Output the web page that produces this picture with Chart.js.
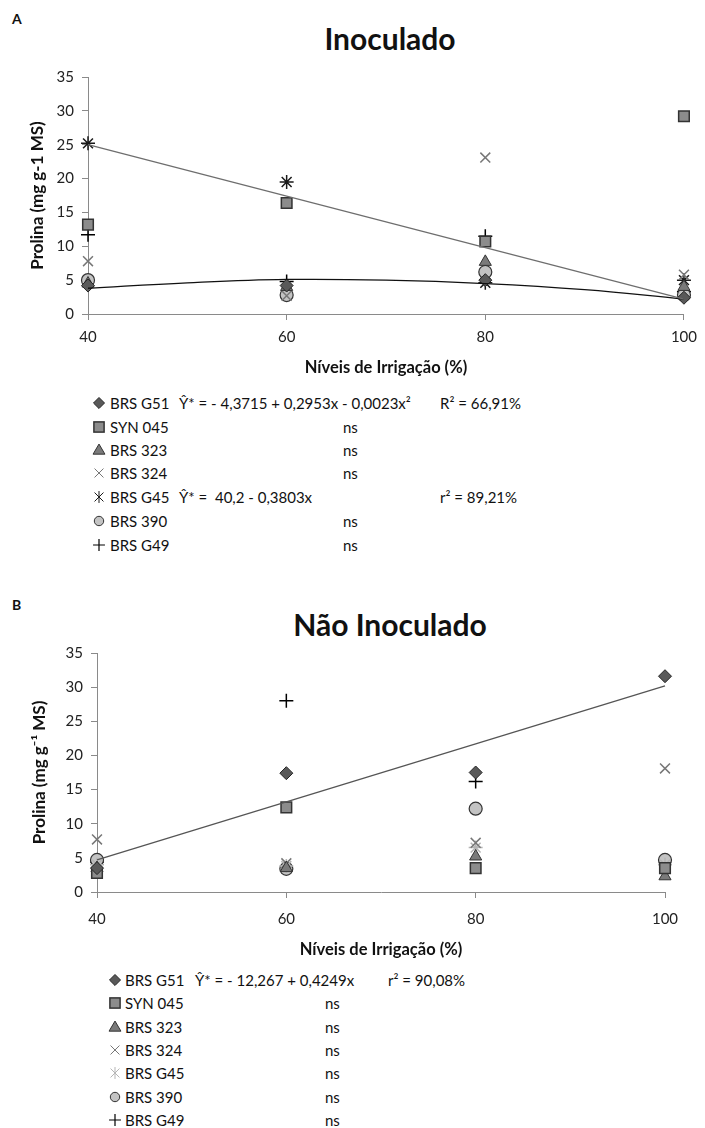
<!DOCTYPE html>
<html lang="pt">
<head>
<meta charset="UTF-8">
<title>Prolina</title>
<script src="https://cdn.jsdelivr.net/npm/chart.js"></script>
<style>
  html, body { margin: 0; padding: 0; background: #fff; }
  #page { position: relative; width: 705px; height: 1128px; font-family: Lato, "Open Sans", sans-serif; color: #111; overflow: hidden; }
  .box { position: absolute; left: 0; width: 705px; }
  .letter { position: absolute; left: 12px; font: bold 14px Lato, sans-serif; }
  .title { position: absolute; font: bold 30px Lato, sans-serif; transform: translateX(-50%); white-space: nowrap; }
  .leg { position: absolute; font-size: 15px; white-space: pre; line-height: 18px; }
  .leg svg { position: absolute; }
</style>
</head>
<body>
<div id="page">
  <div class="letter" style="top:10px">A</div>
  <div class="title" style="left:390px;top:20px">Inoculado</div>
  <div class="box" style="top:60px;height:320px"><canvas id="chartA"></canvas></div>
  <div id="legendA"></div>

  <div class="letter" style="top:596px">B</div>
  <div class="title" style="left:390px;top:606px">Não Inoculado</div>
  <div class="box" style="top:630px;height:332px"><canvas id="chartB"></canvas></div>
  <div id="legendB"></div>
</div>

<script>
  // irrigation levels (%)
  const levels = [40, 60, 80, 100];
  const cultivars = ['BRS G51', 'SYN 045', 'BRS 323', 'BRS 324', 'BRS G45', 'BRS 390', 'BRS G49'];

  // A - Inoculado (mg g-1 MS)
  const inocG51    = [4.2, 4.2, 5.0, 2.4];
  const inocSYN045 = [13.2, 16.4, 10.7, 29.2];
  const inocBRS323 = [4.5, 4.0, 7.7, 4.0];
  const inocBRS324 = [7.8, 2.7, 23.1, 5.8];
  const inocG45    = [25.2, 19.5, 4.6, 5.0];
  const inocBRS390 = [5.0, 2.8, 6.2, 2.8];
  const inocG49    = [11.7, 4.8, 11.5, 3.3];

  // B - Não Inoculado
  const nonG51    = [3.5, 17.4, 17.5, 31.6];
  const nonSYN045 = [2.8, 12.4, 3.5, 3.5];
  const nonBRS323 = [3.5, 3.5, 5.2, 2.3];
  const nonBRS324 = [7.7, 4.2, 7.2, 18.1];
  const nonG45    = [4.0, 3.8, 6.5, 4.0];
  const nonBRS390 = [4.7, 3.4, 12.2, 4.7];
  const nonG49    = [4.4, 28.0, 16.2, 4.7];

  // fitted trend lines
  const fitLevelsQuad = [40, 50, 60, 70, 80, 90, 100];
  const inocFitG51 = [3.8, 4.6, 5.1, 5.0, 4.5, 3.6, 2.2];
  const fitLevelsLin = [40, 100];
  const inocFitG45 = [25.0, 2.2];
  const nonFitG51 = [4.7, 30.2];

  const yTicks = [0, 5, 10, 15, 20, 25, 30, 35];

  // legend text columns
  const eqA = ['Ŷ* = - 4,3715 + 0,2953x - 0,0023x²', 'ns', 'ns', 'ns', 'Ŷ* =  40,2 - 0,3803x', 'ns', 'ns'];
  const r2A = ['R² = 66,91%', '', '', '', 'r² = 89,21%', '', ''];
  const eqB = ['Ŷ* = - 12,267 + 0,4249x', 'ns', 'ns', 'ns', 'ns', 'ns', 'ns'];
  const r2B = ['r² = 90,08%', '', '', '', '', '', ''];

  // marker styles per cultivar
  function markers(g45color) {
    return [
      { pointStyle: 'rectRot',  radius: 6.5, bg: '#595959', border: '#262626', bw: 1 },
      { pointStyle: 'rect',     radius: 7.5, bg: '#8c8c8c', border: '#333', bw: 1.5 },
      { pointStyle: 'triangle', radius: 7,   bg: '#7a7a7a', border: '#333', bw: 1 },
      { pointStyle: 'crossRot', radius: 7,   bg: '#777',    border: '#777', bw: 1.5 },
      { pointStyle: 'star',     radius: 7,   bg: g45color,  border: g45color, bw: 1.5 },
      { pointStyle: 'circle',   radius: 6.5, bg: '#c3c3c3', border: '#333', bw: 1.2 },
      { pointStyle: 'cross',    radius: 7,   bg: '#000',    border: '#000', bw: 1.5 }
    ];
  }

  function pts(xs, ys) {
    return xs.map((x, i) => ({ x: x, y: ys[i] }));
  }

  function makeChart(id, seriesList, styles, fits, pad, yWidth, xHeight, xTickPad, yTitle) {
    const datasets = [];
    fits.forEach(f => {
      datasets.push({
        data: pts(f.x, f.y),
        showLine: true,
        borderColor: f.color,
        borderWidth: 1.3,
        pointRadius: 0,
        tension: f.tension || 0,
        clip: false
      });
    });
    seriesList.forEach((s, i) => {
      const st = styles[i];
      datasets.push({
        label: cultivars[i],
        data: pts(levels, s),
        showLine: false,
        pointStyle: st.pointStyle,
        pointRadius: st.radius,
        pointBackgroundColor: st.bg,
        pointBorderColor: st.border,
        pointBorderWidth: st.bw,
        clip: false
      });
    });
    return new Chart(document.getElementById(id), {
      type: 'scatter',
      data: { datasets: datasets },
      options: {
        responsive: true,
        maintainAspectRatio: false,
        animation: false,
        layout: { padding: pad },
        plugins: { legend: { display: false }, tooltip: { enabled: false } },
        scales: {
          x: {
            type: 'linear', min: 40, max: 100,
            afterFit: s => { s.height = xHeight; },
            border: { color: '#8a8a8a', width: 1 },
            grid: { drawOnChartArea: false, drawTicks: true, tickLength: 6, color: '#8a8a8a' },
            ticks: { stepSize: 20, color: '#222', padding: xTickPad, font: { family: 'Lato', size: 15 } },
            title: { display: true, text: 'Níveis de Irrigação (%)', color: '#111',
                     font: { family: 'Lato', size: 16.5, weight: 'bold' }, padding: { top: 0, bottom: 2 } }
          },
          y: {
            min: 0, max: 35,
            afterFit: s => { s.width = yWidth; },
            afterBuildTicks: s => { s.ticks = yTicks.map(v => ({ value: v })); },
            border: { color: '#8a8a8a', width: 1 },
            grid: { drawOnChartArea: false, drawTicks: true, tickLength: 6, color: '#8a8a8a' },
            ticks: { color: '#222', padding: 8, font: { family: 'Lato', size: 15 } },
            title: { display: true, text: yTitle, color: '#111',
                     font: { family: 'Lato', size: 17, weight: 'bold' }, padding: { top: 0, bottom: 4 } }
          }
        }
      }
    });
  }

  const stylesA = markers('#1a1a1a');
  const stylesB = markers('#b5b5b5');

  makeChart('chartA',
    [inocG51, inocSYN045, inocBRS323, inocBRS324, inocG45, inocBRS390, inocG49],
    stylesA,
    [{ x: fitLevelsLin, y: inocFitG45, color: '#6e6e6e' },
     { x: fitLevelsQuad, y: inocFitG51, color: '#111', tension: 0.4 }],
    { top: 17, right: 15, left: 27, bottom: 0 }, 61, 66, 8, 'Prolina (mg g-1 MS)');

  makeChart('chartB',
    [nonG51, nonSYN045, nonBRS323, nonBRS324, nonG45, nonBRS390, nonG49],
    stylesB,
    [{ x: fitLevelsLin, y: nonFitG51, color: '#555' }],
    { top: 23, right: 40, left: 29, bottom: 0 }, 68, 70, 12, 'Prolina (mg g⁻¹ MS)');

  // legend marker as small svg
  function markerSvg(st, size) {
    const c = size / 2, r = st.radius * 0.85;
    let inner = '';
    const sw = st.bw;
    switch (st.pointStyle) {
      case 'rectRot':
        inner = `<polygon points="${c},${c - r} ${c + r},${c} ${c},${c + r} ${c - r},${c}" fill="${st.bg}" stroke="${st.border}" stroke-width="${sw}"/>`; break;
      case 'rect':
        inner = `<rect x="${c - r * 0.8}" y="${c - r * 0.8}" width="${r * 1.6}" height="${r * 1.6}" fill="${st.bg}" stroke="${st.border}" stroke-width="${sw}"/>`; break;
      case 'triangle':
        inner = `<polygon points="${c},${c - r} ${c + r},${c + r * 0.7} ${c - r},${c + r * 0.7}" fill="${st.bg}" stroke="${st.border}" stroke-width="${sw}"/>`; break;
      case 'crossRot': {
        const d = r * 0.75;
        inner = `<path d="M${c - d} ${c - d}L${c + d} ${c + d}M${c + d} ${c - d}L${c - d} ${c + d}" stroke="${st.border}" stroke-width="1"/>`; break;
      }
      case 'star': {
        const d = r * 0.75;
        inner = `<path d="M${c - d} ${c - d}L${c + d} ${c + d}M${c + d} ${c - d}L${c - d} ${c + d}M${c} ${c - r}L${c} ${c + r}" stroke="${st.border}" stroke-width="1"/>`; break;
      }
      case 'circle':
        inner = `<circle cx="${c}" cy="${c}" r="${r * 0.85}" fill="${st.bg}" stroke="${st.border}" stroke-width="1"/>`; break;
      case 'cross':
        inner = `<path d="M${c - r} ${c}L${c + r} ${c}M${c} ${c - r}L${c} ${c + r}" stroke="${st.border}" stroke-width="1.2"/>`; break;
    }
    return `<svg width="${size}" height="${size}" style="left:${-size / 2}px;top:${9 - size / 2}px">${inner}</svg>`;
  }

  function buildLegend(el, styles, eqs, r2s, rows, cols) {
    let html = '';
    cultivars.forEach((name, i) => {
      const y = rows[i] - 9;
      html += `<div class="leg" style="left:${cols.marker}px;top:${y}px">${markerSvg(styles[i], 16)}</div>`;
      html += `<div class="leg" style="left:${cols.name}px;top:${y}px">${name}</div>`;
      if (eqs[i] === 'ns') {
        html += `<div class="leg" style="left:${cols.ns}px;top:${y}px">ns</div>`;
      } else {
        html += `<div class="leg" style="left:${cols.eq}px;top:${y}px">${eqs[i]}</div>`;
      }
      if (r2s[i]) html += `<div class="leg" style="left:${cols.r2}px;top:${y}px">${r2s[i]}</div>`;
    });
    el.innerHTML = html;
  }

  buildLegend(document.getElementById('legendA'), stylesA, eqA, r2A,
    [403, 427, 450, 473, 497, 521, 545],
    { marker: 99, name: 110, eq: 179, ns: 343, r2: 440 });
  buildLegend(document.getElementById('legendB'), stylesB, eqB, r2B,
    [980, 1003, 1027, 1050, 1073, 1097, 1120],
    { marker: 115, name: 125, eq: 195, ns: 325, r2: 388 });
</script>
</body>
</html>
